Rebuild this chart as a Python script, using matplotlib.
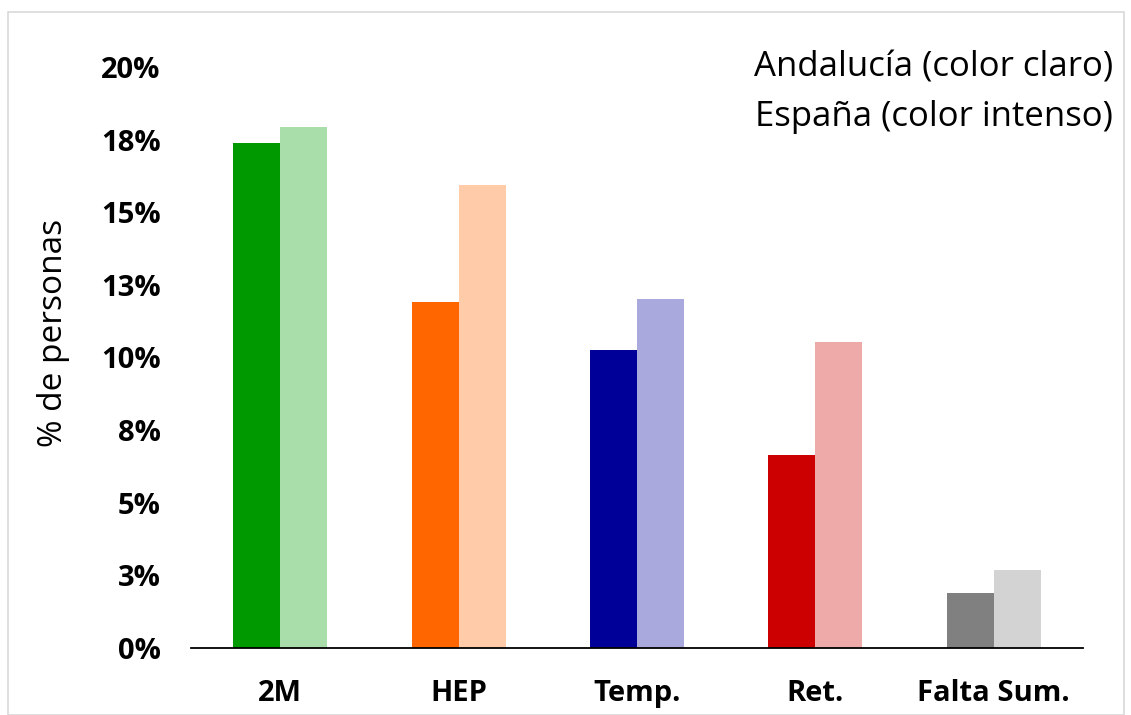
import matplotlib
matplotlib.use("Agg")
import matplotlib.pyplot as plt
from matplotlib.patches import Rectangle
from matplotlib.ticker import FuncFormatter
import numpy as np

categories = ["2M", "HEP", "Temp.", "Ret.", "Falta Sum."]
espana = [17.4, 11.9, 10.25, 6.65, 1.9]      # color intenso
andalucia = [17.95, 15.95, 12.0, 10.55, 2.7]  # color claro
dark_colors = ["#009900", "#FF6600", "#000099", "#CC0000", "#808080"]
light_colors = ["#A9DDA9", "#FFCBA8", "#A9A9DD", "#EEA9A9", "#D3D3D3"]
yticks = [0, 2.5, 5, 7.5, 10, 12.5, 15, 17.5, 20]

plt.rcParams['font.family'] = ['Open Sans', 'DejaVu Sans']

fig = plt.figure(figsize=(11.31, 7.15), dpi=100)
fig.patches.append(Rectangle((8/1131, 0), (1124-8)/1131, 1 - 12/715, transform=fig.transFigure,
                             fill=False, edgecolor="#D9D9D9", linewidth=1.2))
ax = fig.add_axes([191/1131, 1 - 648/715, (1083-191)/1131, (648-67)/715])

x = np.arange(len(categories))
w = 0.263
ax.bar(x - w/2, espana, width=w, color=dark_colors)
ax.bar(x + w/2, andalucia, width=w, color=light_colors)

ax.set_xlim(-0.5, len(categories) - 0.5)
ax.set_ylim(0, 20)
ax.set_yticks(yticks)
ax.yaxis.set_major_formatter(FuncFormatter(lambda v, p: f"{int(np.floor(v + 0.5))}%"))
ax.set_xticks(x)
ax.set_xticklabels(categories)
for lbl in ax.get_yticklabels() + ax.get_xticklabels():
    lbl.set_fontweight("bold")
    lbl.set_fontsize(21)
ax.tick_params(axis="y", length=0, pad=22)
ax.tick_params(axis="x", length=0, pad=22)
for s in ["top", "right", "left"]:
    ax.spines[s].set_visible(False)
ax.spines["bottom"].set_linewidth(1.3)
ax.spines["bottom"].set_color("#000000")

fig.text(53/1131, 1 - 333/715, "% de personas", rotation=90, fontsize=24,
         fontweight="medium", ha="center", va="center")
fig.text(1113/1131, 1 - 67/715, "Andalucía (color claro)", fontsize=25,
         fontweight="medium", ha="right", va="center")
fig.text(1113/1131, 1 - 117/715, "España (color intenso)", fontsize=25,
         fontweight="medium", ha="right", va="center")

fig.savefig("out.png", dpi=100)
